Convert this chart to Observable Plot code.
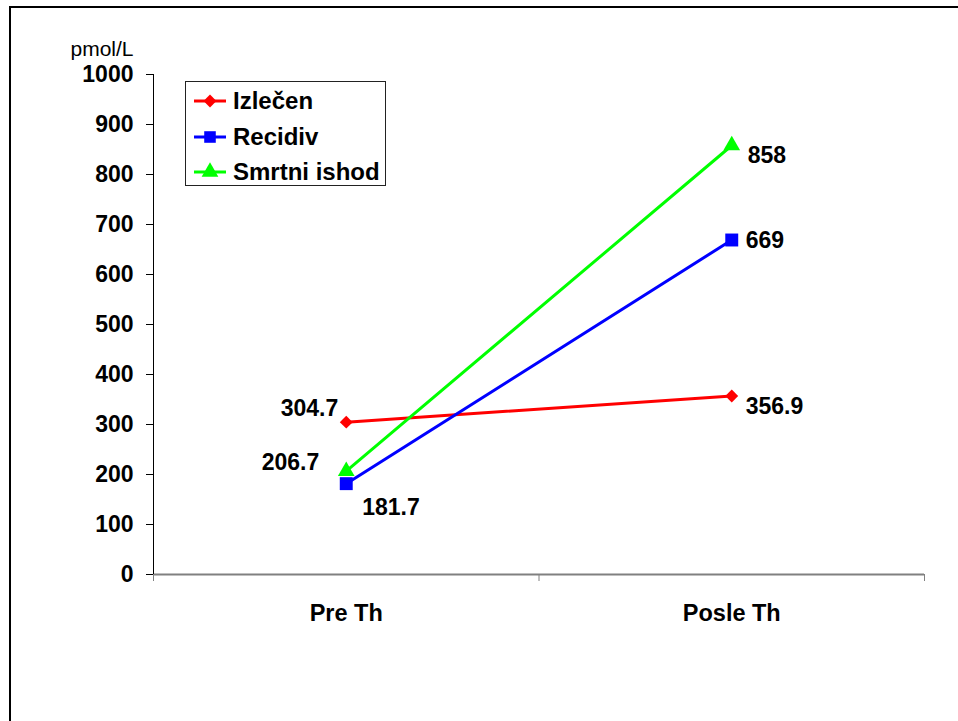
<!DOCTYPE html>
<html>
<head>
<meta charset="utf-8">
<script src="https://cdn.jsdelivr.net/npm/d3@7"></script>
<script src="https://cdn.jsdelivr.net/npm/@observablehq/plot@0.6"></script>
<style>
  html, body { margin: 0; padding: 0; background: #fff; }
  #wrap { position: relative; width: 958px; height: 721px; overflow: hidden; font-family: "Liberation Sans", Arial, sans-serif; }
  #border { position: absolute; left: 9px; top: 6px; width: 1000px; height: 1000px; border-left: 2px solid #000; border-top: 2px solid #000; box-sizing: border-box; pointer-events: none; }
  #chart { position: absolute; left: 0; top: 0; }
  #legend { position: absolute; left: 185px; top: 81px; width: 201px; height: 105px; border: 1px solid #222; box-sizing: border-box; background: #fff; }
  .row { position: absolute; left: 7px; height: 30px; display: flex; align-items: center; }
  .row span { font-weight: bold; font-size: 24px; margin-left: 6px; color: #000; }
</style>
</head>
<body>
<div id="wrap">
  <div id="chart"></div>
  <div id="legend"></div>
  <div id="border"></div>
</div>
<script>
const categories = ["Pre Th", "Posle Th"];
const seriesNames = ["Izlečen", "Recidiv", "Smrtni ishod"];
const izlecen = [304.7, 356.9];
const recidiv = [181.7, 669];
const smrtniIshod = [206.7, 858];
const yTicks = [0, 100, 200, 300, 400, 500, 600, 700, 800, 900, 1000];
const yUnit = "pmol/L";
const colors = ["#ff0000", "#0000ff", "#00ff00"];
const symbols = ["diamond2", "square", "triangle"];

const seriesValues = [izlecen, recidiv, smrtniIshod];
const rows = seriesNames.flatMap((s, si) =>
  categories.map((c, ci) => ({ series: s, cat: c, xi: ci + 0.5, value: seriesValues[si][ci] }))
);
const pick = (s, c) => rows.filter(d => d.series === s && d.cat === c);
const fmt = v => String(v);

const font = '"Liberation Sans", Arial, sans-serif';
const lbl = { x: "xi", y: "value", text: d => fmt(d.value), fontSize: 23, fontWeight: "bold", fill: "#000" };

const chart = Plot.plot({
  width: 958,
  height: 721,
  marginLeft: 153,
  marginRight: 34,
  marginTop: 74,
  marginBottom: 147,
  style: { fontFamily: font, background: "transparent", overflow: "visible" },
  x: { domain: [0, 2] },
  y: { domain: [0, 1000] },
  color: { domain: seriesNames, range: colors },
  symbol: { domain: seriesNames, range: symbols },
  marks: [
    Plot.axisX({ ticks: [0, 1, 2], tickSize: 7, tickFormat: () => "", stroke: "#808080", label: null }),
    Plot.axisX({ ticks: [0.5, 1.5], tickSize: 0, tickPadding: 30, tickFormat: d => categories[Math.floor(d)], fontSize: 23.5, fontWeight: "bold", label: null }),
    Plot.axisY({ ticks: yTicks, tickSize: 7, tickPadding: 13, tickFormat: d => String(d), fontSize: 23, fontWeight: "bold", label: null, stroke: "#000" }),
    Plot.ruleY([0], { stroke: "#808080", strokeWidth: 2 }),
    Plot.ruleX([0], { stroke: "#000", strokeWidth: 1 }),
    Plot.text([yUnit], { frameAnchor: "top-left", text: d => d, dx: -83, dy: -33, textAnchor: "start", fontSize: 21, fill: "#000" }),
    Plot.line(rows, { x: "xi", y: "value", z: "series", stroke: "series", strokeWidth: 3 }),
    Plot.dot(rows.filter(d => d.series === seriesNames[0]), { x: "xi", y: "value", symbol: "series", fill: "series", r: 5.8 }),
    Plot.dot(rows.filter(d => d.series === seriesNames[1]), { x: "xi", y: "value", symbol: "series", fill: "series", r: 7.3 }),
    Plot.dot(rows.filter(d => d.series === seriesNames[2]), { x: "xi", y: "value", symbol: "series", fill: "series", r: 6.2 }),
    Plot.text(pick(seriesNames[0], categories[0]), { ...lbl, dx: -8, dy: -14, textAnchor: "end" }),
    Plot.text(pick(seriesNames[2], categories[0]), { ...lbl, dx: -27, dy: -9, textAnchor: "end" }),
    Plot.text(pick(seriesNames[1], categories[0]), { ...lbl, dx: 16, dy: 24, textAnchor: "start" }),
    Plot.text(pick(seriesNames[2], categories[1]), { ...lbl, dx: 16, dy: 10, textAnchor: "start" }),
    Plot.text(pick(seriesNames[1], categories[1]), { ...lbl, dx: 14, dy: 1, textAnchor: "start" }),
    Plot.text(pick(seriesNames[0], categories[1]), { ...lbl, dx: 14, dy: 11, textAnchor: "start" })
  ]
});
document.getElementById("chart").appendChild(chart);

// Legend
const legend = document.getElementById("legend");
const ns = "http://www.w3.org/2000/svg";
seriesNames.forEach((name, i) => {
  const row = document.createElement("div");
  row.className = "row";
  row.style.top = (4 + i * 35.5) + "px";
  const svg = document.createElementNS(ns, "svg");
  svg.setAttribute("width", 34);
  svg.setAttribute("height", 20);
  const line = document.createElementNS(ns, "line");
  line.setAttribute("x1", 1); line.setAttribute("x2", 33);
  line.setAttribute("y1", 10); line.setAttribute("y2", 10);
  line.setAttribute("stroke", colors[i]); line.setAttribute("stroke-width", 3);
  svg.appendChild(line);
  const sym = { diamond2: d3.symbolDiamond2, square: d3.symbolSquare, triangle: d3.symbolTriangle }[symbols[i]];
  const sizes = [Math.PI * 5.8 * 5.8, Math.PI * 7.3 * 7.3 * 0.8, Math.PI * 6.2 * 6.2];
  const path = document.createElementNS(ns, "path");
  path.setAttribute("d", d3.symbol(sym, sizes[i])());
  path.setAttribute("transform", "translate(17,10)");
  path.setAttribute("fill", colors[i]);
  svg.appendChild(path);
  row.appendChild(svg);
  const t = document.createElement("span");
  t.textContent = name;
  row.appendChild(t);
  legend.appendChild(row);
});
</script>
</body>
</html>
